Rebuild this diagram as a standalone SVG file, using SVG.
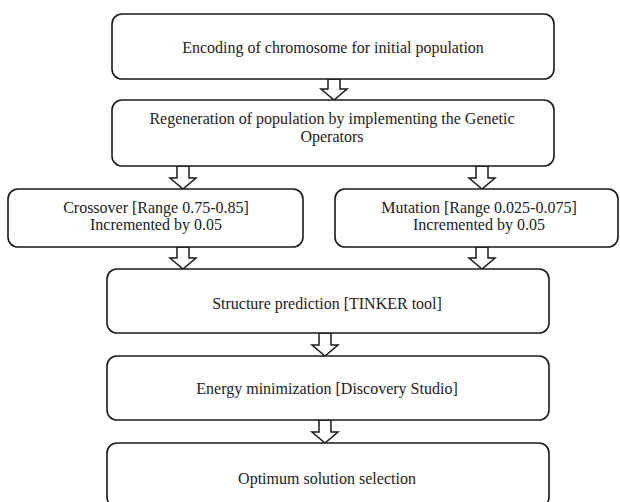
<svg xmlns="http://www.w3.org/2000/svg" width="620" height="502" viewBox="0 0 620 502">
<style>
.box{fill:#fff;stroke:#1a1a1a;stroke-width:1.6}
.arr{fill:#fff;stroke:#1a1a1a;stroke-width:1.5;stroke-linejoin:miter}
text{font-family:"Liberation Serif","Times New Roman",serif;font-size:16px;fill:#222;text-anchor:middle}
</style>
<rect width="620" height="502" fill="#fff"/>
<g id="connectors">
<polygon class="arr" points="328,79 340,79 340,89 347,89 334,100 321,89 328,89"/>
<polygon class="arr" points="177,166 189,166 189,178 196,178 183,189 170,178 177,178"/>
<polygon class="arr" points="476,166 488,166 488,178 495,178 482,189 469,178 476,178"/>
<polygon class="arr" points="177,247 189,247 189,258 196,258 183,269 170,258 177,258"/>
<polygon class="arr" points="476,247 488,247 488,258 495,258 482,269 469,258 476,258"/>
<polygon class="arr" points="319,333 331,333 331,345 338,345 325,356 312,345 319,345"/>
<polygon class="arr" points="319,420 331,420 331,432 338,432 325,443 312,432 319,432"/>
</g>
<g id="encoding">
<rect class="box" x="112" y="14" width="442" height="65" rx="10"/>
<text x="333" y="53">Encoding of chromosome for initial population</text>
</g>
<g id="regeneration">
<rect class="box" x="112" y="100" width="442" height="66" rx="10"/>
<text x="332" y="124">Regeneration of population by implementing the Genetic</text>
<text x="332" y="141.5">Operators</text>
</g>
<g id="crossover">
<rect class="box" x="8" y="189" width="295" height="58" rx="10"/>
<text x="156" y="213">Crossover [Range 0.75-0.85]</text>
<text x="156" y="229.5">Incremented by 0.05</text>
</g>
<g id="mutation">
<rect class="box" x="335" y="189" width="283" height="58" rx="10"/>
<text x="479" y="213">Mutation [Range 0.025-0.075]</text>
<text x="479" y="229.5">Incremented by 0.05</text>
</g>
<g id="structure">
<rect class="box" x="107" y="269" width="442" height="64" rx="10"/>
<text x="327" y="309">Structure prediction [TINKER tool]</text>
</g>
<g id="energy">
<rect class="box" x="107" y="356" width="442" height="64" rx="10"/>
<text x="327" y="394">Energy minimization [Discovery Studio]</text>
</g>
<g id="optimum">
<rect class="box" x="107" y="443" width="442" height="64" rx="10"/>
<text x="327" y="484">Optimum solution selection</text>
</g>
</svg>
